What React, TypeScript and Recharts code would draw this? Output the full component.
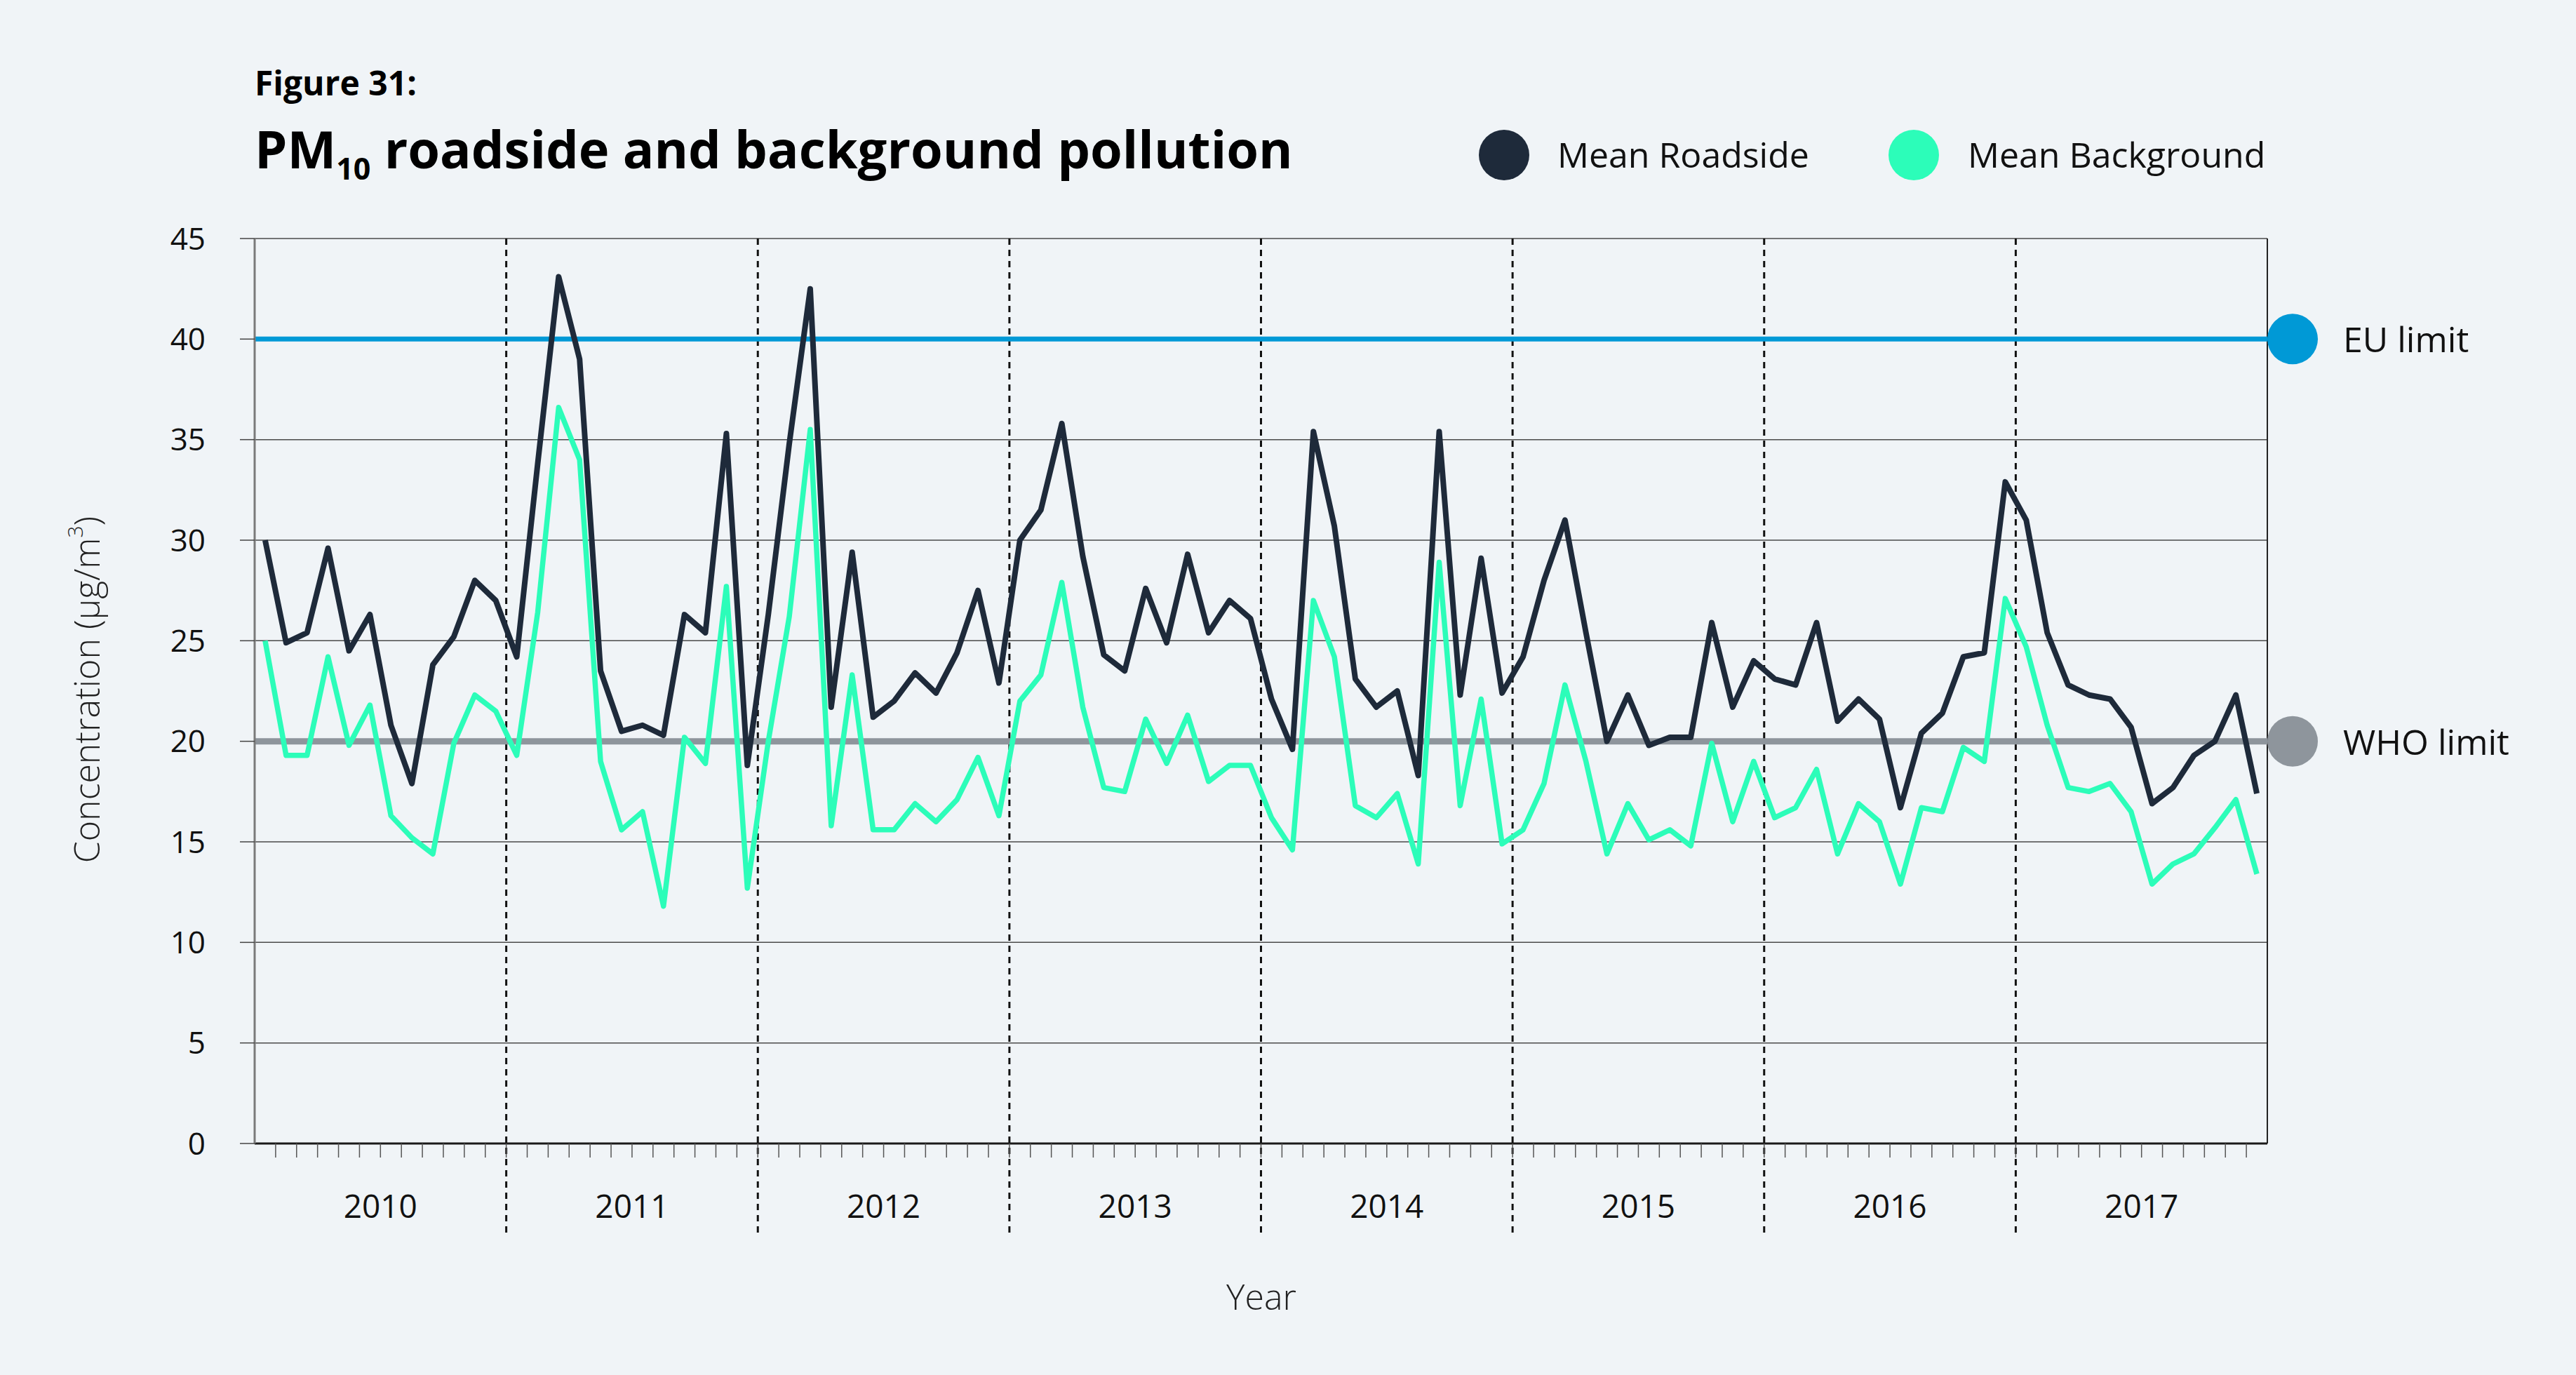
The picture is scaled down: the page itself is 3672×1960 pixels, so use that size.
import React from 'react';
import { LineChart, Line, XAxis, YAxis, CartesianGrid, ReferenceLine } from 'recharts';

const years = ['2010', '2011', '2012', '2013', '2014', '2015', '2016', '2017'];

const roadside = [
  30.0, 24.9, 25.4, 29.6, 24.5, 26.3, 20.8, 17.9, 23.8, 25.2, 28.0, 27.0,
  24.2, 33.8, 43.1, 39.0, 23.5, 20.5, 20.8, 20.3, 26.3, 25.4, 35.3, 18.8,
  26.3, 34.8, 42.5, 21.7, 29.4, 21.2, 22.0, 23.4, 22.4, 24.4, 27.5, 22.9,
  30.0, 31.5, 35.8, 29.2, 24.3, 23.5, 27.6, 24.9, 29.3, 25.4, 27.0, 26.1,
  22.1, 19.6, 35.4, 30.7, 23.1, 21.7, 22.5, 18.3, 35.4, 22.3, 29.1, 22.4,
  24.2, 28.0, 31.0, 25.4, 20.0, 22.3, 19.8, 20.2, 20.2, 25.9, 21.7, 24.0,
  23.1, 22.8, 25.9, 21.0, 22.1, 21.1, 16.7, 20.4, 21.4, 24.2, 24.4, 32.9,
  31.0, 25.4, 22.8, 22.3, 22.1, 20.7, 16.9, 17.7, 19.3, 20.0, 22.3, 17.4,
];

const background = [
  25.0, 19.3, 19.3, 24.2, 19.8, 21.8, 16.3, 15.2, 14.4, 19.9, 22.3, 21.5,
  19.3, 26.4, 36.6, 34.0, 19.0, 15.6, 16.5, 11.8, 20.2, 18.9, 27.7, 12.7,
  20.0, 26.2, 35.5, 15.8, 23.3, 15.6, 15.6, 16.9, 16.0, 17.1, 19.2, 16.3,
  22.0, 23.3, 27.9, 21.7, 17.7, 17.5, 21.1, 18.9, 21.3, 18.0, 18.8, 18.8,
  16.2, 14.6, 27.0, 24.2, 16.8, 16.2, 17.4, 13.9, 28.9, 16.8, 22.1, 14.9,
  15.6, 17.9, 22.8, 19.0, 14.4, 16.9, 15.1, 15.6, 14.8, 19.9, 16.0, 19.0,
  16.2, 16.7, 18.6, 14.4, 16.9, 16.0, 12.9, 16.7, 16.5, 19.7, 19.0, 27.1,
  24.7, 20.8, 17.7, 17.5, 17.9, 16.5, 12.9, 13.9, 14.4, 15.7, 17.1, 13.4,
];

const yTicks = [0, 5, 10, 15, 20, 25, 30, 35, 40, 45];
const euLimit = 40;
const whoLimit = 20;
const seriesNames = ['Mean Roadside', 'Mean Background'];
const limitNames = ['EU limit', 'WHO limit'];

const MONTHS = 12;
const data = roadside.map((r, i) => ({ x: i + 0.5, roadside: r, background: background[i] }));
const monthBoundaries = Array.from({ length: roadside.length - 1 }, (_, i) => i + 1);
const yearBoundaries = years.slice(1).map((_, i) => (i + 1) * MONTHS);

const FONT = '"Open Sans", "Noto Sans", sans-serif';
const BG = '#F0F4F7';
const DARK = '#1E2A3A';
const GREEN = '#2CFDB9';
const BLUE = '#0099D6';
const GREY = '#8E959C';

const YearTick = (props: any) => {
  const { x, y, payload } = props;
  const v = payload.value;
  if ((v - MONTHS / 2) % MONTHS !== 0) return null;
  const label = years[(v - MONTHS / 2) / MONTHS];
  return (
    <text x={x} y={y + 84} textAnchor="middle" fontFamily={FONT} fontSize={46} fill="#111">
      {label}
    </text>
  );
};

const DashedYear = (p: any) => {
  const top = Math.min(p.y1, p.y2);
  const bottom = Math.max(p.y1, p.y2);
  return <line x1={p.x1} x2={p.x2} y1={top} y2={bottom + 130} stroke="#111" strokeWidth={3} strokeDasharray="9 7" />;
};

const limitShape = (color: string, label: string, width: number) => (p: any) => {
  const left = Math.min(p.x1, p.x2);
  const right = Math.max(p.x1, p.x2);
  return (
    <g>
      <line x1={left} x2={right} y1={p.y1} y2={p.y2} stroke={color} strokeWidth={width} />
      <circle cx={right + 36} cy={p.y1} r={36} fill={color} />
      <text x={right + 108} y={p.y1 + 19} fontFamily={FONT} fontSize={50} fill="#111">{label}</text>
    </g>
  );
};

export default function App() {
  return (
    <div style={{ position: 'absolute', left: 0, top: 0, width: 3672, height: 1960, background: BG, overflow: 'hidden' }}>
      <LineChart
        width={3672}
        height={1960}
        data={data}
        margin={{ top: 340, right: 440, bottom: 0, left: 0 }}
      >
        <CartesianGrid horizontal vertical={false} stroke="#4a4a4a" strokeWidth={1.5} />
        <XAxis
          dataKey="x"
          type="number"
          domain={[0, roadside.length]}
          ticks={monthBoundaries}
          interval={0}
          height={330}
          tickSize={20}
          tickMargin={2}
          axisLine={{ stroke: '#1a1a1a', strokeWidth: 3 }}
          tickLine={{ stroke: '#555', strokeWidth: 1.5 }}
          tick={<YearTick />}
        />
        <YAxis
          domain={[0, 45]}
          ticks={yTicks}
          interval={0}
          width={363}
          tickSize={21}
          tickMargin={49}
          axisLine={{ stroke: '#7a7a7a', strokeWidth: 3 }}
          tickLine={{ stroke: '#444', strokeWidth: 1.5 }}
          tick={{ fontSize: 44, fill: '#111', fontFamily: FONT }}
        />
        {yearBoundaries.map((b) => (
          <ReferenceLine key={b} x={b} shape={<DashedYear />} />
        ))}
        <ReferenceLine x={roadside.length} stroke="#222" strokeWidth={2} />
        <ReferenceLine y={euLimit} shape={limitShape(BLUE, limitNames[0], 7)} />
        <ReferenceLine y={whoLimit} shape={limitShape(GREY, limitNames[1], 9)} />
        <Line
          type="linear"
          dataKey="background"
          stroke={GREEN}
          strokeWidth={7.5}
          dot={false}
          strokeLinejoin="round"
          isAnimationActive={false}
        />
        <Line
          type="linear"
          dataKey="roadside"
          stroke={DARK}
          strokeWidth={8}
          dot={false}
          strokeLinejoin="round"
          isAnimationActive={false}
        />
      </LineChart>
      <svg width={3672} height={1960} style={{ position: 'absolute', left: 0, top: 0, pointerEvents: 'none' }}>
        <text x={363} y={136} fontFamily={FONT} fontWeight={700} fontSize={48} fill="#000">Figure 31:</text>
        <text x={363} y={240} fontFamily={FONT} fontWeight={700} fontSize={74} fill="#000">
          PM<tspan fontSize={43} dy={16}>10</tspan><tspan dy={-16}> roadside and background pollution</tspan>
        </text>
        <circle cx={2144} cy={221} r={36} fill={DARK} />
        <text x={2220} y={239} fontFamily={FONT} fontSize={50} fill="#111">{seriesNames[0]}</text>
        <circle cx={2728} cy={221} r={36} fill={GREEN} />
        <text x={2805} y={239} fontFamily={FONT} fontSize={50} fill="#111">{seriesNames[1]}</text>
        <text
          x={123}
          y={983}
          transform="rotate(-90 123 983)"
          textAnchor="middle"
          dominantBaseline="central"
          fontFamily={FONT}
          fontWeight={300}
          fontSize={50}
          fill="#222"
        >
          Concentration (μg/m<tspan fontSize={30} dy={-17}>3</tspan><tspan dy={17}>)</tspan>
        </text>
        <text x={1798} y={1867} textAnchor="middle" fontFamily={FONT} fontWeight={300} fontSize={50} fill="#222">Year</text>
      </svg>
    </div>
  );
}
